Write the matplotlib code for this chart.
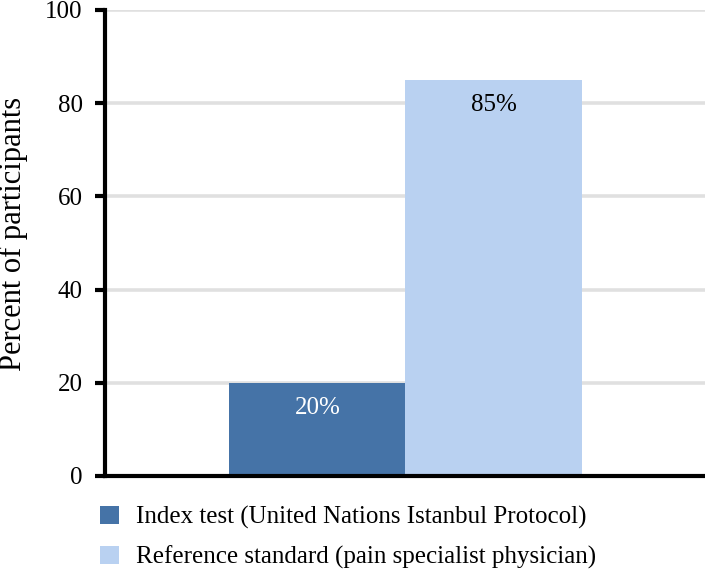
import matplotlib
matplotlib.use("Agg")
import matplotlib.pyplot as plt

# data
groups = ["Index test (United Nations Istanbul Protocol)",
          "Reference standard (pain specialist physician)"]
values = [20, 85]
colors = ["#4573a7", "#b9d1f1"]
label_colors = ["white", "black"]
yticks = [0, 20, 40, 60, 80, 100]

plt.rcParams["font.family"] = ["Liberation Serif", "DejaVu Serif"]

fig = plt.figure(figsize=(7.05, 5.69), dpi=100)
ax = fig.add_axes([105 / 705, 1 - 476 / 569, 600 / 705, 466 / 569])

bars = []
for i, (g, v, c) in enumerate(zip(groups, values, colors)):
    b = ax.bar(i, v, width=1.0, color=c, label=g, zorder=3)
    bars.append(b)
    ax.annotate("{0}%".format(v), xy=(i, v), xytext=(0, -18),
                textcoords="offset points", ha="center", va="center",
                color=label_colors[i], fontsize=18, zorder=4)

ax.set_xlim(-1.205, 2.2)
ax.set_ylim(0, 100)
ax.set_yticks(yticks)
ax.set_xticks([])
ax.yaxis.grid(True, color="#e0e0e0", linewidth=2.6, zorder=0)
ax.set_axisbelow(True)

for s in ["top", "right"]:
    ax.spines[s].set_visible(False)
for s in ["left", "bottom"]:
    ax.spines[s].set_linewidth(3)
    ax.spines[s].set_zorder(5)

ax.tick_params(axis="y", length=7, width=3, pad=9, labelsize=18)
ax.set_ylabel("Percent of participants", fontsize=22)
ax.yaxis.set_label_coords(-0.128, 0.519)

fig.legend(handles=[b[0] for b in bars], labels=groups,
           loc="upper left", bbox_to_anchor=(100 / 705, 1 - 506 / 569),
           frameon=False, fontsize=18, borderpad=0, borderaxespad=0,
           handlelength=0.74, handleheight=0.74, handletextpad=0.68,
           labelspacing=0.66)

fig.savefig("out.png", dpi=100)
